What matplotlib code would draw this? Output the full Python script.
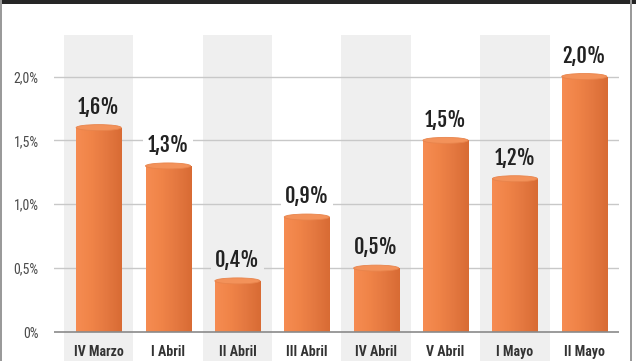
import matplotlib
matplotlib.use("Agg")
import matplotlib.pyplot as plt
import numpy as np
from matplotlib.colors import LinearSegmentedColormap
from matplotlib.patches import Ellipse, Rectangle

categories = ["IV Marzo", "I Abril", "II Abril", "III Abril", "IV Abril", "V Abril", "I Mayo", "II Mayo"]
values = [1.6, 1.3, 0.4, 0.9, 0.5, 1.5, 1.2, 2.0]
value_labels = ["1,6%", "1,3%", "0,4%", "0,9%", "0,5%", "1,5%", "1,2%", "2,0%"]
yticks = [0, 0.5, 1.0, 1.5, 2.0]
ytick_labels = ["0%", "0,5%", "1,0%", "1,5%", "2,0%"]

W, H = 636, 361
fig = plt.figure(figsize=(W / 100, H / 100), dpi=100)
fig.patch.set_facecolor("white")

# axes spans x 54..619, y 35..361 (pixels from top)
ax = fig.add_axes([54 / W, 0, (619 - 54) / W, (361 - 35) / H])
ax.set_facecolor("white")
XMIN, XMAX = -0.644, 7.5
YMIN, YMAX = -0.227, 2.325
x = np.arange(len(categories))
band = "#efefef"

for i in x:
    if i % 2 == 0:
        ax.axvspan(i - 0.5, i + 0.5, color=band, lw=0, zorder=0)

for t in yticks[1:]:
    ax.plot([XMIN, XMAX], [t, t], color="#c8c8c8", lw=1.0, zorder=1)
ax.plot([XMIN, XMAX], [0, 0], color="#8a8a8a", lw=1.2, zorder=4)

bw = 0.65
bars = ax.bar(x, values, width=bw, color="#ee8046", lw=0, zorder=2)
cmap = LinearSegmentedColormap.from_list("o", ["#f68c52", "#f08448", "#e47840", "#d86b34"])
grad = np.linspace(0, 1, 256).reshape(1, -1)
eh = 6 / 127.75
for b, v in zip(bars, values):
    x0 = b.get_x()
    im = ax.imshow(grad, cmap=cmap, aspect="auto", extent=[x0, x0 + bw, 0, v],
                   zorder=3, interpolation="bilinear")
    im.set_clip_path(b)
    ax.add_patch(Ellipse((x0 + bw / 2, v), bw, eh, facecolor="#f3925a",
                         edgecolor="#e8844c", lw=0.6, zorder=3.5))

for i, (v, lab) in enumerate(zip(values, value_labels)):
    bg = band if i % 2 == 0 else "white"
    ax.annotate(lab, (i, v), xytext=(0, 15.0), textcoords="offset points",
                ha="center", va="center", fontsize=14.5,
                family=["Fjalla One", "DejaVu Sans"], color="#222222",
                bbox=dict(boxstyle="square,pad=0.2", fc=bg, ec="none"), zorder=5)

for i, c in enumerate(categories):
    ax.text(i, -0.157, c, ha="center", va="center", fontsize=10, fontweight="bold",
            family=["Roboto Condensed", "DejaVu Sans"], color="#333333", zorder=5)

ax.set_xlim(XMIN, XMAX)
ax.set_ylim(YMIN, YMAX)
ax.set_yticks(yticks)
ax.set_yticklabels(ytick_labels, fontsize=10, color="#4a4a4a",
                   family=["Roboto Condensed", "DejaVu Sans"])
ax.tick_params(axis="y", length=0, pad=11)
ax.set_xticks([])
for s in ax.spines.values():
    s.set_visible(False)

# frame decorations
fig.add_artist(Rectangle((0, 1 - 4 / H), 1, 4 / H, transform=fig.transFigure,
                         facecolor="#262626", lw=0, zorder=10))
fig.add_artist(Rectangle((0, 0), 2 / W, 1, transform=fig.transFigure,
                         facecolor="#9a9a9a", lw=0, zorder=10))
fig.add_artist(Rectangle((630 / W, 0), 2 / W, 1, transform=fig.transFigure,
                         facecolor="#9a9a9a", lw=0, zorder=10))

fig.savefig("out.png", dpi=100)
